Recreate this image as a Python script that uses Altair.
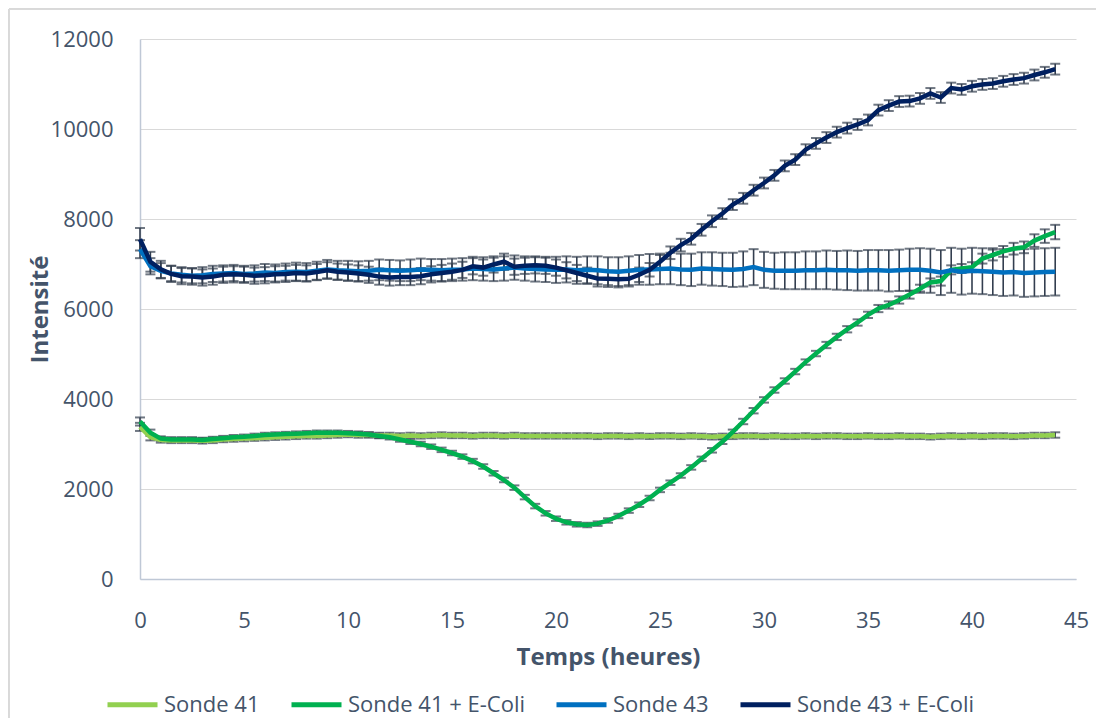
import altair as alt
import pandas as pd

# sampling times (hours), every half hour from 0 to 44
hours = [i / 2 for i in range(89)]

series_names = ["Sonde 41", "Sonde 41 + E-Coli", "Sonde 43", "Sonde 43 + E-Coli"]
series_colors = ["#92d050", "#00b050", "#0070c0", "#002060"]

sonde41 = [
    3380, 3150, 3090, 3080, 3080, 3080, 3070, 3080, 3100, 3110,
    3120, 3130, 3140, 3150, 3160, 3170, 3180, 3180, 3190, 3200,
    3210, 3200, 3200, 3190, 3190, 3180, 3190, 3180, 3190, 3200,
    3190, 3190, 3180, 3190, 3190, 3180, 3190, 3180, 3180, 3180,
    3180, 3180, 3180, 3180, 3170, 3180, 3180, 3170, 3180, 3170,
    3180, 3180, 3170, 3180, 3170, 3160, 3170, 3170, 3180, 3180,
    3170, 3180, 3170, 3170, 3180, 3170, 3180, 3180, 3170, 3170,
    3180, 3170, 3170, 3180, 3170, 3170, 3160, 3170, 3180, 3170,
    3180, 3170, 3180, 3180, 3170, 3180, 3190, 3190, 3200,
]
sonde41_err = [
    90, 70, 60, 60, 60, 60, 60, 60, 60, 60,
    60, 60, 60, 60, 60, 60, 60, 60, 60, 60,
    60, 60, 60, 60, 60, 60, 60, 60, 60, 60,
    60, 60, 60, 60, 60, 60, 60, 60, 60, 60,
    60, 60, 60, 60, 60, 60, 60, 60, 60, 60,
    60, 60, 60, 60, 60, 60, 60, 60, 60, 60,
    60, 60, 60, 60, 60, 60, 60, 60, 60, 60,
    60, 60, 60, 60, 60, 60, 60, 60, 60, 60,
    60, 60, 60, 60, 60, 60, 60, 60, 60,
]

sonde41_ecoli = [
    3500, 3250, 3120, 3100, 3100, 3100, 3090, 3110, 3130, 3150,
    3160, 3180, 3200, 3210, 3220, 3230, 3240, 3250, 3250, 3250,
    3240, 3230, 3210, 3180, 3150, 3100, 3050, 3000, 2940, 2870,
    2800, 2720, 2620, 2500, 2350, 2200, 2030, 1820, 1620, 1460,
    1340, 1260, 1215, 1200, 1230, 1300, 1400, 1520, 1650, 1800,
    1980, 2140, 2300, 2480, 2670, 2860, 3050, 3270, 3500, 3740,
    3980, 4200, 4400, 4610, 4820, 5010, 5200, 5380, 5550, 5700,
    5870, 6010, 6090, 6200, 6320, 6450, 6590, 6620, 6870, 6900,
    6930, 7120, 7200, 7280, 7340, 7370, 7520, 7620, 7710,
]
sonde41_ecoli_err = [
    90, 70, 50, 50, 50, 50, 50, 50, 50, 50,
    50, 50, 50, 50, 50, 50, 50, 50, 50, 50,
    50, 50, 50, 50, 50, 50, 50, 50, 50, 50,
    50, 50, 50, 50, 50, 50, 50, 50, 50, 50,
    50, 50, 50, 50, 50, 50, 50, 50, 50, 50,
    50, 50, 50, 50, 50, 50, 50, 50, 60, 60,
    60, 60, 60, 60, 60, 60, 70, 70, 70, 70,
    70, 80, 80, 80, 90, 90, 90, 100, 100, 100,
    110, 110, 120, 120, 130, 130, 140, 150, 160,
]

sonde43 = [
    7330, 6950, 6850, 6790, 6760, 6740, 6750, 6780, 6790, 6800,
    6780, 6790, 6810, 6800, 6820, 6830, 6820, 6850, 6880, 6860,
    6850, 6840, 6850, 6870, 6860, 6850, 6860, 6880, 6870, 6860,
    6870, 6880, 6900, 6890, 6880, 6900, 6920, 6900, 6890, 6880,
    6870, 6880, 6860, 6870, 6860, 6840, 6830, 6850, 6870, 6880,
    6890, 6900, 6880, 6870, 6900, 6890, 6880, 6870, 6890, 6930,
    6870, 6850, 6850, 6850, 6860, 6860, 6870, 6860, 6860, 6850,
    6860, 6860, 6850, 6860, 6870, 6870, 6850, 6810, 6860, 6830,
    6850, 6840, 6830, 6810, 6820, 6800, 6810, 6820, 6830,
]
sonde43_err = [
    200, 180, 170, 170, 170, 170, 180, 180, 180, 180,
    180, 180, 190, 190, 190, 200, 200, 200, 210, 210,
    220, 220, 220, 230, 230, 230, 240, 240, 240, 250,
    250, 250, 260, 260, 260, 270, 270, 270, 280, 280,
    290, 290, 300, 300, 310, 310, 320, 320, 330, 340,
    340, 350, 350, 360, 360, 370, 370, 380, 390, 400,
    400, 400, 410, 410, 420, 420, 430, 430, 440, 440,
    450, 450, 460, 460, 470, 480, 490, 500, 500, 510,
    510, 510, 520, 520, 520, 530, 530, 530, 530,
]

sonde43_ecoli = [
    7550, 7050, 6880, 6780, 6730, 6720, 6700, 6720, 6760, 6770,
    6760, 6740, 6750, 6770, 6780, 6800, 6790, 6820, 6860, 6830,
    6810, 6790, 6760, 6720, 6700, 6710, 6710, 6730, 6770, 6800,
    6830, 6870, 6950, 6920, 6990, 7050, 6940, 6960, 6970, 6960,
    6920, 6860, 6800, 6740, 6680, 6670, 6660, 6670, 6760, 6870,
    7050, 7250, 7420, 7560, 7760, 7950, 8120, 8320, 8460, 8640,
    8800, 8970, 9180, 9320, 9540, 9680, 9810, 9930, 10020, 10100,
    10200, 10420, 10520, 10610, 10620, 10680, 10790, 10700, 10910, 10880,
    10950, 10990, 11010, 11060, 11100, 11130, 11200, 11260, 11330,
]
sonde43_ecoli_err = [
    250, 220, 190, 180, 180, 180, 180, 180, 180, 180,
    180, 180, 180, 180, 180, 180, 180, 180, 180, 180,
    180, 180, 180, 180, 180, 180, 180, 180, 180, 180,
    180, 180, 180, 180, 180, 180, 180, 180, 180, 180,
    180, 180, 180, 180, 180, 180, 180, 170, 160, 150,
    150, 140, 140, 130, 130, 130, 120, 120, 120, 120,
    120, 120, 120, 120, 120, 120, 120, 120, 120, 120,
    120, 120, 120, 120, 120, 120, 120, 120, 120, 120,
    120, 120, 120, 120, 120, 120, 120, 120, 120,
]

x_ticks = [0, 5, 10, 15, 20, 25, 30, 35, 40, 45]
y_ticks = [0, 2000, 4000, 6000, 8000, 10000, 12000]

rows = []
for name, vals, errs in zip(
    series_names,
    [sonde41, sonde41_ecoli, sonde43, sonde43_ecoli],
    [sonde41_err, sonde41_ecoli_err, sonde43_err, sonde43_ecoli_err],
):
    for t, v, e in zip(hours, vals, errs):
        rows.append({"series": name, "t": t, "v": v, "lo": v - e, "hi": v + e})
df = pd.DataFrame(rows)

FONT = "Open Sans"
TXT = "#44546a"
AXIS_LINE = "#bfc8d6"
ERR = "#333e4f"

x_enc = alt.X(
    "t:Q",
    scale=alt.Scale(domain=[0, 45], nice=False, zero=False),
    axis=alt.Axis(
        values=x_ticks, grid=False, ticks=False, tickSize=0,
        domainColor=AXIS_LINE, domainWidth=1.5, labelFlush=False,
        labelFont=FONT, labelFontSize=22, labelColor=TXT, labelPadding=31,
        title="Temps (heures)", titleFont=FONT, titleFontSize=24,
        titleFontWeight="bold", titleColor=TXT,
        titleX=468, titleY=78, titleAlign="center", titleBaseline="middle",
    ),
)

def y_enc(field):
    return alt.Y(
        field,
        scale=alt.Scale(domain=[0, 12000], nice=False),
        axis=alt.Axis(
            values=y_ticks, format="d", grid=True, gridColor="#d9d9d9", gridWidth=1.2,
            ticks=False, tickSize=0, domainColor=AXIS_LINE, domainWidth=1.5,
            labelFlush=False,
            labelFont=FONT, labelFontSize=22, labelColor=TXT, labelPadding=27,
            title="Intensité", titleFont=FONT, titleFontSize=24,
            titleFontWeight="bold", titleColor=TXT,
            titleX=-100, titleY=270, titleAngle=270,
            titleAlign="center", titleBaseline="middle",
        ),
    )

base = alt.Chart(df)

frame = base.mark_rect(fill=None, stroke="#d9d9d9", strokeWidth=1).encode(
    x=alt.value(-131), x2=alt.value(957), y=alt.value(-30), y2=alt.value(700)
)

err_rule = base.mark_rule(color=ERR, strokeWidth=1.6).encode(
    x=x_enc, y=y_enc("lo:Q"), y2="hi:Q"
)
cap_lo = base.mark_tick(color=ERR, size=10, thickness=2, orient="horizontal").encode(
    x=x_enc, y=y_enc("lo:Q")
)
cap_hi = base.mark_tick(color=ERR, size=10, thickness=2, orient="horizontal").encode(
    x=x_enc, y=y_enc("hi:Q")
)

lines = base.mark_line(strokeWidth=4.5).encode(
    x=x_enc,
    y=y_enc("v:Q"),
    color=alt.Color(
        "series:N",
        scale=alt.Scale(domain=series_names, range=series_colors),
        sort=series_names,
        legend=alt.Legend(
            title=None, orient="none", legendX=-35, legendY=638,
            direction="horizontal", columns=4, columnPadding=21,
            symbolType="stroke", symbolSize=2500, symbolStrokeWidth=5,
            labelFont=FONT, labelFontSize=22, labelColor=TXT, labelOffset=4,
            labelLimit=0, padding=0,
        ),
    ),
    order="t:Q",
)

chart = (
    alt.layer(frame, err_rule, cap_lo, cap_hi, lines)
    .properties(
        width=936, height=540,
        autosize=alt.AutoSizeParams(type="none"),
        padding={"left": 132, "top": 31, "right": 20, "bottom": 139},
        background="white",
    )
    .configure_view(stroke=None)
)

chart.save("out.html", embed_options={"renderer": "svg", "actions": False})
